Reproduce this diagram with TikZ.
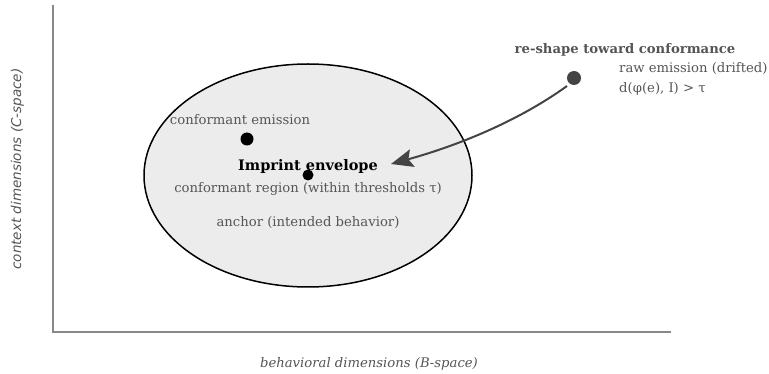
\documentclass[tikz,border=0pt]{standalone}
\usepackage{fontspec}
\setmainfont{DejaVu Serif}
\setsansfont{DejaVu Sans}
\usetikzlibrary{arrows.meta,shapes.geometric}
\definecolor{axisgray}{HTML}{888888}
\definecolor{txtgray}{HTML}{555555}
\definecolor{dotgray}{HTML}{444444}
\definecolor{envfill}{HTML}{ECECEC}
\begin{document}
\begin{tikzpicture}[x=1pt,y=-1pt,
  lbl/.style={text=txtgray,font=\fontsize{13.2}{15}\selectfont,inner sep=0pt},
  axis/.style={draw=axisgray,line width=1.2pt},
  dot/.style={circle,fill=black,inner sep=0pt}]
\useasboundingbox (0,0) rectangle (769,374);
\coordinate (top) at (53,5);
\coordinate (orig) at (53,332);
\coordinate (right) at (671,332);
\draw[axis] (top) -- (orig) -- (right);
\node[ellipse,draw=black,fill=envfill,line width=1.5pt,minimum width=328pt,minimum height=223pt,inner sep=0pt] (env) at (308,175.5) {};
\node[dot,minimum size=13pt] (ce) at (247,139) {};
\node[dot,minimum size=11pt] (anchor) at (308,175) {};
\node[dot,fill=dotgray,minimum size=14pt] (raw) at (574,78) {};
\node[lbl,anchor=base] (celbl) at (240,125) {conformant emission};
\node[inner sep=0pt,anchor=base,font=\fontsize{14.5}{16}\selectfont\bfseries] (envlbl) at (308,171) {Imprint envelope};
\node[lbl,anchor=base] (reglbl) at (308,193) {conformant region (within thresholds τ)};
\node[lbl,anchor=base] (anclbl) at (308,227) {anchor (intended behavior)};
\node[lbl,anchor=base,font=\fontsize{13.2}{15}\selectfont\bfseries] (reshape) at (625,54) {re-shape toward conformance};
\node[lbl,anchor=base west] (rawlbl) at (619,73) {raw emission (drifted)};
\node[lbl,anchor=base west] (distlbl) at (619,93) {d(φ(e), I) > τ};
\coordinate (tip) at (391,164);
\draw[dotgray,line width=2pt,-{Stealth[length=22pt,width=18pt,inset=4pt]}] (567,86) .. controls (520,120) and (460,145) .. (tip);
\node[text=txtgray,font=\fontsize{13.2}{15}\selectfont\itshape,anchor=base] (xlbl) at (369,367) {behavioral dimensions (B-space)};
\node[text=txtgray,font=\fontsize{13.5}{15}\selectfont\sffamily\itshape,rotate=90,anchor=base] (ylbl) at (21,169) {context dimensions (C-space)};
\end{tikzpicture}
\end{document}
